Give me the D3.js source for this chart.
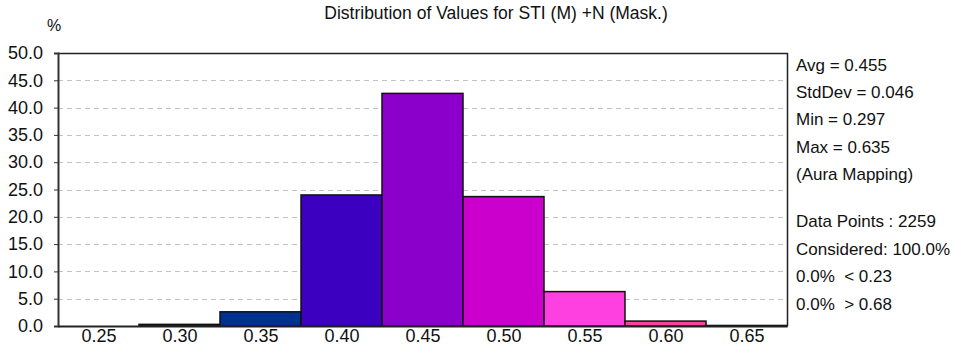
<!DOCTYPE html>
<html>
  <head>
    <meta charset="utf-8">
    <title>Distribution of Values</title>
    <script src="https://cdn.jsdelivr.net/npm/d3@7"></script>
    <style>
      body { margin: 0; background: #fff; }
      #chart { width: 956px; height: 347px; display: block; }
      text { font-family: "Liberation Sans", Arial, sans-serif; fill: #111; }
    </style>
  </head>

  <body>
    <svg id="chart" width="956" height="347"></svg>

    <script>
      // data
      bins = [0.25, 0.30, 0.35, 0.40, 0.45, 0.50, 0.55, 0.60, 0.65];
      percents = [0.0, 0.3, 2.6, 24.0, 42.6, 23.7, 6.3, 0.9, 0.1];
      binColors = ["#000060", "#001f60", "#003090", "#3c00c0", "#8c00cc", "#cc00cc", "#ff40e0", "#ff40a0", "#ff4060"];
      yTicks = [0, 5, 10, 15, 20, 25, 30, 35, 40, 45, 50];
      titleText = "Distribution of Values for STI (M) +N (Mask.)";
      statsTop = ["Avg = 0.455", "StdDev = 0.046", "Min = 0.297", "Max = 0.635", "(Aura Mapping)"];
      statsBottom = ["Data Points : 2259", "Considered: 100.0%", "0.0%  < 0.23", "0.0%  > 0.68"];
      binWidth = 0.05;

      chart = d3.select("#chart");
      margin = {top: 53, bottom: 21, left: 58, right: 169};
      width = 956;
      height = 347;

      x = d3.scaleLinear()
          .domain([bins[0] - binWidth / 2, bins[bins.length - 1] + binWidth / 2])
          .range([margin.left, width - margin.right]);

      y = d3.scaleLinear()
          .domain([0, 50])
          .range([height - margin.bottom, margin.top]);

      // gridlines
      chart.append("g")
          .selectAll("line")
          .data(yTicks.filter(d => d > 0 && d < 50))
          .join("line")
            .attr("x1", margin.left)
            .attr("x2", width - margin.right)
            .attr("y1", d => Math.round(y(d)) + 0.5)
            .attr("y2", d => Math.round(y(d)) + 0.5)
            .attr("stroke", "#c4c4c4")
            .attr("stroke-dasharray", "5,4");

      // bars
      chart.append("g")
          .selectAll("rect")
          .data(bins)
          .join("rect")
            .attr("x", d => x(d - binWidth / 2))
            .attr("width", x(binWidth) - x(0))
            .attr("y", (d, i) => y(percents[i]))
            .attr("height", (d, i) => y(0) - y(percents[i]))
            .attr("fill", (d, i) => binColors[i])
            .attr("stroke", (d, i) => percents[i] > 0 ? "#111" : "none")
            .attr("stroke-width", 1.5);

      // frame (top + right)
      chart.append("path")
          .attr("d", `M${margin.left},${margin.top + 0.5}H${width - margin.right + 0.5}V${height - margin.bottom}`)
          .attr("fill", "none")
          .attr("stroke", "#222")
          .attr("stroke-width", 1.5);

      // y axis
      yAxis = d3.axisLeft(y)
          .tickValues(yTicks)
          .tickSize(4)
          .tickPadding(11)
          .tickFormat(d3.format(".1f"));

      yAxisGroup = chart.append("g")
          .attr("transform", `translate(${margin.left}, 0)`)
          .call(yAxis);
      yAxisGroup.select(".domain").attr("stroke", "#333").attr("stroke-width", 2);
      yAxisGroup.selectAll(".tick line").attr("stroke", "#333");
      yAxisGroup.selectAll("text")
          .attr("font-size", 18)
          .attr("font-family", null)
          .attr("fill", "#111");

      // x axis
      xAxis = d3.axisBottom(x)
          .tickValues(bins)
          .tickSize(0)
          .tickPadding(3)
          .tickFormat(d3.format(".2f"));

      xAxisGroup = chart.append("g")
          .attr("transform", `translate(0, ${height - margin.bottom})`)
          .call(xAxis);
      xAxisGroup.select(".domain").attr("stroke", "#222").attr("stroke-width", 2);
      xAxisGroup.selectAll("text")
          .attr("font-size", 18)
          .attr("font-family", null)
          .attr("fill", "#111");

      // unit label
      chart.append("text")
          .attr("x", 47)
          .attr("y", 31)
          .attr("font-size", 16)
          .text("%");

      // title
      chart.append("text")
          .attr("x", 496)
          .attr("y", 19)
          .attr("text-anchor", "middle")
          .attr("font-size", 17.5)
          .text(titleText);

      // stats
      statsX = width - margin.right + 9;
      chart.append("g")
          .selectAll("text")
          .data(statsTop)
          .join("text")
            .attr("x", statsX)
            .attr("y", (d, i) => 71 + i * 27.2)
            .attr("font-size", 17)
            .text(d => d);

      chart.append("g")
          .selectAll("text")
          .data(statsBottom)
          .join("text")
            .attr("x", statsX)
            .attr("y", (d, i) => 227 + i * 27.5)
            .attr("font-size", 17)
            .style("white-space", "pre")
            .text(d => d);
    </script>
  </body>
</html>
